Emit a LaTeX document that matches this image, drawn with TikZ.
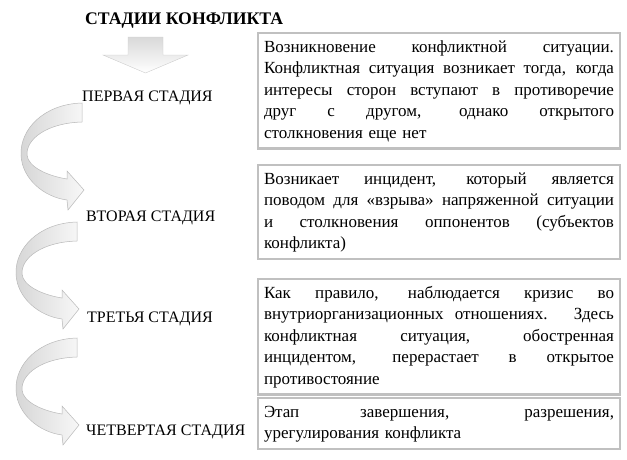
\documentclass[tikz,border=0pt]{standalone}
\usepackage{fontspec}
\setmainfont{Liberation Serif}
\definecolor{boxgray}{RGB}{192,192,192}
\newcommand\justln[1]{\makebox[350pt][s]{\spaceskip=0pt\xspaceskip=0pt #1}\\}
\begin{document}
\begin{tikzpicture}[x=1pt,y=-1pt,
  stagebox/.style={draw=boxgray, line width=2.5pt, fill=white, anchor=north west, outer sep=0pt,
    text width=350pt, inner xsep=6pt, inner ysep=4pt, align=left,
    font=\fontsize{17}{21.5}\selectfont},
  stagelabel/.style={anchor=base west, inner sep=0pt, font=\fontsize{16}{18}\selectfont},
  curvearrow/.style={draw=gray!55, line width=0.5pt, left color=gray!32, right color=gray!6},
  downarrow/.style={draw=gray!40, line width=0.4pt, top color=gray!30, bottom color=white}]
\useasboundingbox (0,0) rectangle (627,459);

% title
\node[anchor=base west, inner sep=0pt, font=\fontsize{17.7}{20}\selectfont\bfseries] (title) at (85,24.5) {СТАДИИ КОНФЛИКТА};

% down arrow
\path[downarrow] (128,37) -- (163,37) -- (163,55) -- (188,55) -- (145.5,73) -- (103,55) -- (128,55) -- cycle;

% stage labels
\node[stagelabel] (l1) at (82,101) {ПЕРВАЯ СТАДИЯ};
\node[stagelabel] (l2) at (86,221) {ВТОРАЯ СТАДИЯ};
\node[stagelabel] (l3) at (87,322) {ТРЕТЬЯ СТАДИЯ};
\node[stagelabel] (l4) at (86,435) {ЧЕТВЕРТАЯ СТАДИЯ};

% curved arrows
\foreach \ox/\oy in {82/103, 77/222, 77/338}{
  \path[curvearrow, shift={(\ox,\oy)}]
    (0,0) .. controls (-38,1) and (-62,26) .. (-61,52)
    .. controls (-60,76) and (-38,94) .. (-15,97)
    -- (-14,107) -- (2,87) -- (-15,68) -- (-15,76)
    .. controls (-34,73) and (-54,64) .. (-55,52)
    .. controls (-56,36) and (-35,20) .. (0,19) -- cycle;
}

% boxes
\node[stagebox] (b1) at (258,33) {%
\justln{\strut Возникновение конфликтной ситуации.}
\justln{Конфликтная ситуация возникает тогда, когда}
\justln{интересы сторон вступают в противоречие}
\justln{друг с другом, однако открытого}
столкновения еще нет\strut};

\node[stagebox] (b2) at (258,165) {%
\justln{\strut Возникает инцидент, который является}
\justln{поводом для «взрыва» напряженной ситуации}
\justln{и столкновения оппонентов (субъектов}
конфликта)\strut};

\node[stagebox] (b3) at (258,279) {%
\justln{\strut Как правило, наблюдается кризис во}
\justln{внутриорганизационных отношениях. Здесь}
\justln{конфликтная ситуация, обостренная}
\justln{инцидентом, перерастает в открытое}
противостояние\strut};

\node[stagebox] (b4) at (258,398) {%
\justln{\strut Этап завершения, разрешения,}
урегулирования конфликта\strut};
\end{tikzpicture}
\end{document}
